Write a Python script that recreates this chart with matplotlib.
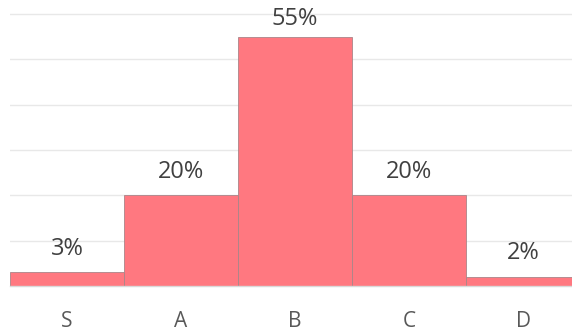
import matplotlib.pyplot as plt

grades = ['S', 'A', 'B', 'C', 'D']
shares = [3, 20, 55, 20, 2]
grid_levels = [10, 20, 30, 40, 50, 60]

plt.rcParams['font.family'] = ['Open Sans', 'DejaVu Sans']

fig = plt.figure(figsize=(5.72, 3.33), dpi=100)
ax = fig.add_axes([10 / 572, 47 / 333, 570 / 572, 286 / 333])

pos = range(len(grades))
ax.bar(pos, shares, width=1.0, color='#ff7880', edgecolor='#a98589', linewidth=0.6, zorder=2)

for lvl in grid_levels:
    ax.axhline(lvl, color='#e8e8e8', linewidth=1, zorder=1)

# the tallest label sits a bit closer to its bar in the original
for x, v in zip(pos, shares):
    off = 13 if v == max(shares) else 17
    ax.annotate(f'{v}%', (x, v), xytext=(0, off), textcoords='offset points',
                ha='center', va='center', fontsize=17, color='#404040')

ax.set_xlim(-0.5, len(grades) - 0.5)
ax.set_ylim(0, 63.1)
ax.set_xticks(list(pos))
ax.set_xticklabels(grades, fontsize=15, color='#595959')
ax.tick_params(axis='x', length=0, pad=18)
ax.set_yticks([])
for side in ['left', 'right', 'top']:
    ax.spines[side].set_visible(False)
ax.spines['bottom'].set_color('#d9d9d9')
ax.spines['bottom'].set_linewidth(1)

fig.savefig('out.png', dpi=100)
